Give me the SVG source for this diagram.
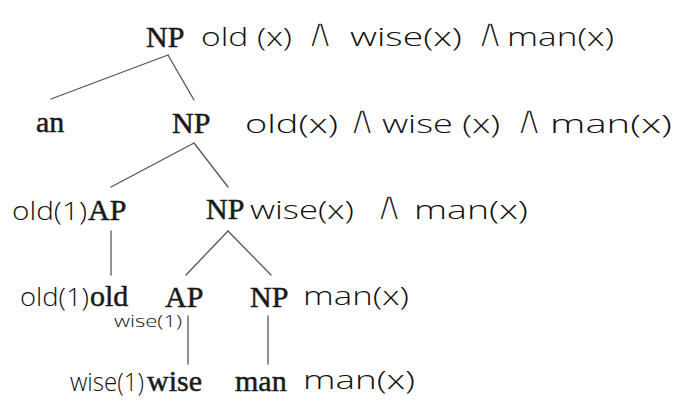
<svg xmlns="http://www.w3.org/2000/svg" width="682" height="402" viewBox="0 0 682 402">
<style>
.cat{font-family:"Liberation Serif","Times New Roman",serif;font-size:30px;fill:#1a1a1a;stroke:#1a1a1a;stroke-width:0.5;}
.hw{font-family:"Open Sans","DejaVu Sans",sans-serif;font-weight:300;font-size:26px;fill:#111;}
.hws{font-size:17px;}
.and{font-family:"DejaVu Sans",sans-serif;font-size:42px;fill:#111;stroke:#fff;stroke-width:2.2;text-anchor:middle;}
.edge{stroke:#555;stroke-width:1.3;fill:none;stroke-linecap:round;}
</style>
<rect x="0" y="0" width="682" height="402" fill="#ffffff"/>
<g id="connectors">
<line class="edge" x1="168" y1="55" x2="51" y2="99"/>
<line class="edge" x1="168" y1="55" x2="194" y2="100"/>
<line class="edge" x1="194" y1="143" x2="111" y2="187"/>
<line class="edge" x1="194" y1="143" x2="228" y2="187"/>
<line class="edge" x1="111" y1="231" x2="111" y2="275"/>
<line class="edge" x1="228" y1="231" x2="186" y2="275"/>
<line class="edge" x1="228" y1="231" x2="271" y2="275"/>
<line class="edge" x1="188" y1="316" x2="188" y2="364"/>
<line class="edge" x1="268" y1="316" x2="268" y2="364"/>
</g>
<g id="np-root">
<text class="cat" x="146" y="47">NP</text>
<text class="hw" x="201" y="46" textLength="91" lengthAdjust="spacingAndGlyphs">old (x)</text>
<text class="and" x="320" y="47">∧</text>
<text class="hw" x="350" y="46" textLength="112" lengthAdjust="spacingAndGlyphs">wise(x)</text>
<text class="and" x="490" y="47">∧</text>
<text class="hw" x="507" y="46" textLength="107" lengthAdjust="spacingAndGlyphs">man(x)</text>
</g>
<g id="det-an">
<text class="cat" x="36" y="132">an</text>
</g>
<g id="np-2">
<text class="cat" x="172" y="133">NP</text>
<text class="hw" x="245" y="133" textLength="93" lengthAdjust="spacingAndGlyphs">old(x)</text>
<text class="and" x="362" y="134">∧</text>
<text class="hw" x="382" y="133" textLength="118" lengthAdjust="spacingAndGlyphs">wise (x)</text>
<text class="and" x="529" y="134">∧</text>
<text class="hw" x="550" y="133" textLength="122" lengthAdjust="spacingAndGlyphs">man(x)</text>
</g>
<g id="ap-old">
<text class="hw" x="12" y="220" textLength="75" lengthAdjust="spacingAndGlyphs">old(1)</text>
<text class="cat" x="88" y="220">AP</text>
</g>
<g id="np-3">
<text class="cat" x="206" y="219">NP</text>
<text class="hw" x="250" y="219" textLength="104" lengthAdjust="spacingAndGlyphs">wise(x)</text>
<text class="and" x="389" y="220">∧</text>
<text class="hw" x="414" y="219" textLength="114" lengthAdjust="spacingAndGlyphs">man(x)</text>
</g>
<g id="adj-old">
<text class="hw" x="20" y="306" textLength="69" lengthAdjust="spacingAndGlyphs">old(1)</text>
<text class="cat" x="90" y="306">old</text>
</g>
<g id="ap-wise">
<text class="cat" x="165" y="307">AP</text>
<text class="hw hws" x="114" y="327" textLength="68" lengthAdjust="spacingAndGlyphs">wise(1)</text>
</g>
<g id="np-4">
<text class="cat" x="250" y="307">NP</text>
<text class="hw" x="303" y="305" textLength="106" lengthAdjust="spacingAndGlyphs">man(x)</text>
</g>
<g id="adj-wise">
<text class="hw" x="70" y="391" textLength="74" lengthAdjust="spacingAndGlyphs">wise(1)</text>
<text class="cat" x="147" y="391">wise</text>
</g>
<g id="noun-man">
<text class="cat" x="235" y="391">man</text>
<text class="hw" x="303" y="389" textLength="112" lengthAdjust="spacingAndGlyphs">man(x)</text>
</g>
</svg>
